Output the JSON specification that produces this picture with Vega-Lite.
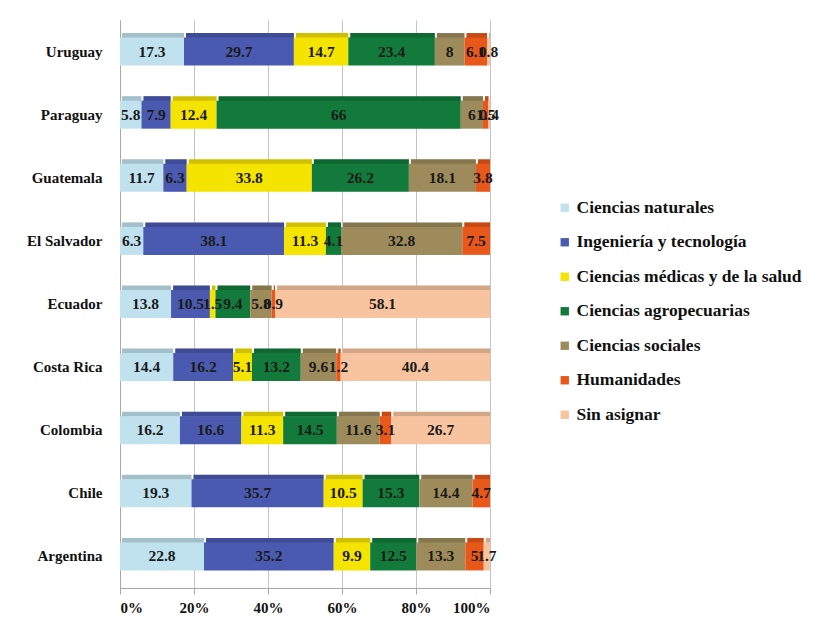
{
  "$schema": "https://vega.github.io/schema/vega-lite/v6.json",
  "autosize": "none",
  "width": 370,
  "height": 568,
  "padding": {"left": 120, "top": 20, "right": 325, "bottom": 31},
  "background": "white",
  "config": {
    "font": "Liberation Serif",
    "view": {"stroke": null},
    "legend": {
      "orient": "none",
      "legendX": 436,
      "legendY": 179,
      "title": null,
      "symbolType": "square",
      "symbolSize": 70,
      "symbolStrokeWidth": 0,
      "rowPadding": 15.5,
      "labelFont": "Liberation Serif",
      "labelFontWeight": "bold",
      "labelFontSize": 17.5,
      "labelColor": "#111111",
      "labelOffset": 3,
      "labelLimit": 320
    }
  },
  "data": {
    "values": [
      {"country": "Uruguay", "area": "Ciencias naturales", "order": 1, "value": 17.3},
      {"country": "Uruguay", "area": "Ingeniería y tecnología", "order": 2, "value": 29.7},
      {"country": "Uruguay", "area": "Ciencias médicas y de la salud", "order": 3, "value": 14.7},
      {"country": "Uruguay", "area": "Ciencias agropecuarias", "order": 4, "value": 23.4},
      {"country": "Uruguay", "area": "Ciencias sociales", "order": 5, "value": 8},
      {"country": "Uruguay", "area": "Humanidades", "order": 6, "value": 6.1},
      {"country": "Uruguay", "area": "Sin asignar", "order": 7, "value": 0.8},

      {"country": "Paraguay", "area": "Ciencias naturales", "order": 1, "value": 5.8},
      {"country": "Paraguay", "area": "Ingeniería y tecnología", "order": 2, "value": 7.9},
      {"country": "Paraguay", "area": "Ciencias médicas y de la salud", "order": 3, "value": 12.4},
      {"country": "Paraguay", "area": "Ciencias agropecuarias", "order": 4, "value": 66},
      {"country": "Paraguay", "area": "Ciencias sociales", "order": 5, "value": 6},
      {"country": "Paraguay", "area": "Humanidades", "order": 6, "value": 1.5},
      {"country": "Paraguay", "area": "Sin asignar", "order": 7, "value": 0.4},

      {"country": "Guatemala", "area": "Ciencias naturales", "order": 1, "value": 11.7},
      {"country": "Guatemala", "area": "Ingeniería y tecnología", "order": 2, "value": 6.3},
      {"country": "Guatemala", "area": "Ciencias médicas y de la salud", "order": 3, "value": 33.8},
      {"country": "Guatemala", "area": "Ciencias agropecuarias", "order": 4, "value": 26.2},
      {"country": "Guatemala", "area": "Ciencias sociales", "order": 5, "value": 18.1},
      {"country": "Guatemala", "area": "Humanidades", "order": 6, "value": 3.8},

      {"country": "El Salvador", "area": "Ciencias naturales", "order": 1, "value": 6.3},
      {"country": "El Salvador", "area": "Ingeniería y tecnología", "order": 2, "value": 38.1},
      {"country": "El Salvador", "area": "Ciencias médicas y de la salud", "order": 3, "value": 11.3},
      {"country": "El Salvador", "area": "Ciencias agropecuarias", "order": 4, "value": 4.1},
      {"country": "El Salvador", "area": "Ciencias sociales", "order": 5, "value": 32.8},
      {"country": "El Salvador", "area": "Humanidades", "order": 6, "value": 7.5},

      {"country": "Ecuador", "area": "Ciencias naturales", "order": 1, "value": 13.8},
      {"country": "Ecuador", "area": "Ingeniería y tecnología", "order": 2, "value": 10.5},
      {"country": "Ecuador", "area": "Ciencias médicas y de la salud", "order": 3, "value": 1.5},
      {"country": "Ecuador", "area": "Ciencias agropecuarias", "order": 4, "value": 9.4},
      {"country": "Ecuador", "area": "Ciencias sociales", "order": 5, "value": 5.8},
      {"country": "Ecuador", "area": "Humanidades", "order": 6, "value": 0.9},
      {"country": "Ecuador", "area": "Sin asignar", "order": 7, "value": 58.1},

      {"country": "Costa Rica", "area": "Ciencias naturales", "order": 1, "value": 14.4},
      {"country": "Costa Rica", "area": "Ingeniería y tecnología", "order": 2, "value": 16.2},
      {"country": "Costa Rica", "area": "Ciencias médicas y de la salud", "order": 3, "value": 5.1},
      {"country": "Costa Rica", "area": "Ciencias agropecuarias", "order": 4, "value": 13.2},
      {"country": "Costa Rica", "area": "Ciencias sociales", "order": 5, "value": 9.6},
      {"country": "Costa Rica", "area": "Humanidades", "order": 6, "value": 1.2},
      {"country": "Costa Rica", "area": "Sin asignar", "order": 7, "value": 40.4},

      {"country": "Colombia", "area": "Ciencias naturales", "order": 1, "value": 16.2},
      {"country": "Colombia", "area": "Ingeniería y tecnología", "order": 2, "value": 16.6},
      {"country": "Colombia", "area": "Ciencias médicas y de la salud", "order": 3, "value": 11.3},
      {"country": "Colombia", "area": "Ciencias agropecuarias", "order": 4, "value": 14.5},
      {"country": "Colombia", "area": "Ciencias sociales", "order": 5, "value": 11.6},
      {"country": "Colombia", "area": "Humanidades", "order": 6, "value": 3.1},
      {"country": "Colombia", "area": "Sin asignar", "order": 7, "value": 26.7},

      {"country": "Chile", "area": "Ciencias naturales", "order": 1, "value": 19.3},
      {"country": "Chile", "area": "Ingeniería y tecnología", "order": 2, "value": 35.7},
      {"country": "Chile", "area": "Ciencias médicas y de la salud", "order": 3, "value": 10.5},
      {"country": "Chile", "area": "Ciencias agropecuarias", "order": 4, "value": 15.3},
      {"country": "Chile", "area": "Ciencias sociales", "order": 5, "value": 14.4},
      {"country": "Chile", "area": "Humanidades", "order": 6, "value": 4.7},

      {"country": "Argentina", "area": "Ciencias naturales", "order": 1, "value": 22.8},
      {"country": "Argentina", "area": "Ingeniería y tecnología", "order": 2, "value": 35.2},
      {"country": "Argentina", "area": "Ciencias médicas y de la salud", "order": 3, "value": 9.9},
      {"country": "Argentina", "area": "Ciencias agropecuarias", "order": 4, "value": 12.5},
      {"country": "Argentina", "area": "Ciencias sociales", "order": 5, "value": 13.3},
      {"country": "Argentina", "area": "Humanidades", "order": 6, "value": 5.0},
      {"country": "Argentina", "area": "Sin asignar", "order": 7, "value": 1.7}
    ]
  },
  "transform": [
    {
      "stack": "value",
      "groupby": ["country"],
      "sort": [{"field": "order", "order": "ascending"}],
      "offset": "normalize",
      "as": ["v0", "v1"]
    },
    {"calculate": "(datum.v0 + datum.v1) / 2", "as": "vmid"}
  ],
  "encoding": {
    "y": {
      "field": "country",
      "type": "nominal",
      "sort": ["Uruguay", "Paraguay", "Guatemala", "El Salvador", "Ecuador", "Costa Rica", "Colombia", "Chile", "Argentina"],
      "scale": {"paddingInner": 0.56, "paddingOuter": 0.28},
      "axis": {
        "title": null,
        "domain": true,
        "domainColor": "#a8a8a8",
        "ticks": false,
        "labelPadding": 18,
        "labelFont": "Liberation Serif",
        "labelFontWeight": "bold",
        "labelFontSize": 15,
        "labelColor": "#111111"
      }
    },
    "color": {
      "field": "area",
      "type": "nominal",
      "scale": {
        "domain": ["Ciencias naturales", "Ingeniería y tecnología", "Ciencias médicas y de la salud", "Ciencias agropecuarias", "Ciencias sociales", "Humanidades", "Sin asignar"],
        "range": ["#c0e2ee", "#4a5ab0", "#f5e300", "#127a3a", "#9e8b5b", "#e8581a", "#f8c39f"]
      }
    }
  },
  "layer": [
    {
      "mark": {"type": "bar", "height": 5, "yOffset": -16, "xOffset": 2},
      "encoding": {
        "x": {"field": "v0", "type": "quantitative"},
        "x2": {"field": "v1"}
      }
    },
    {
      "mark": {"type": "bar", "height": 5, "yOffset": -16, "xOffset": 2, "fill": "#000000", "opacity": 0.15},
      "encoding": {
        "x": {"field": "v0", "type": "quantitative"},
        "x2": {"field": "v1"},
        "color": {"value": "#000000"}
      }
    },
    {
      "mark": {"type": "bar", "height": 28},
      "encoding": {
        "x": {
          "field": "v0",
          "type": "quantitative",
          "scale": {"domain": [0, 1], "nice": false},
          "axis": {
            "title": null,
            "format": ".0%",
            "values": [0, 0.2, 0.4, 0.6, 0.8, 1],
            "grid": true,
            "gridColor": "#c4c4c4",
            "domainColor": "#a8a8a8",
            "tickColor": "#a8a8a8",
            "tickSize": 6,
            "labelPadding": 6,
            "labelFont": "Liberation Serif",
            "labelFontWeight": "bold",
            "labelFontSize": 15,
            "labelColor": "#111111"
          }
        },
        "x2": {"field": "v1"}
      }
    },
    {
      "mark": {"type": "text", "font": "Liberation Serif", "fontWeight": "bold", "fontSize": 15.5, "baseline": "middle"},
      "encoding": {
        "x": {"field": "vmid", "type": "quantitative"},
        "text": {"field": "value", "type": "quantitative"},
        "color": {"value": "#1a1a1a"}
      }
    }
  ]
}
